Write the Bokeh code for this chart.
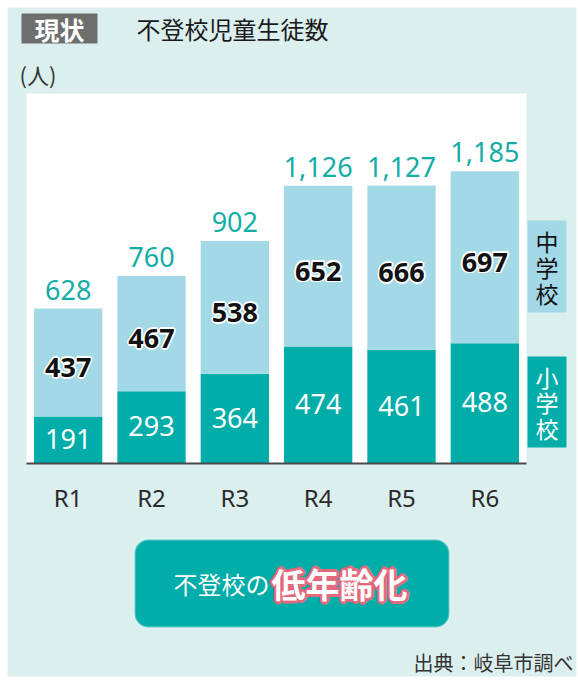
import math
from bokeh.plotting import figure
from bokeh.models import (ColumnDataSource, Range1d, Label, BoxAnnotation, FixedTicker,
                          LinearAxis)
from bokeh.core.properties import value
from bokeh.embed import file_html
from bokeh.resources import INLINE

# ---- data ----
years = ["R1", "R2", "R3", "R4", "R5", "R6"]
elementary = [191, 293, 364, 474, 461, 488]   # 小学校
junior = [437, 467, 538, 652, 666, 697]       # 中学校
totals = [628, 760, 902, 1126, 1127, 1185]

# ---- styles ----
TEAL = "#00ADA9"
TEAL_TXT = "#13ADA6"
LIGHT = "#A3D9E6"
PANEL = "#DCEFEF"
JP = "Noto Sans CJK JP"
NUM = "Noto Sans"

# ---- layout geometry (page pixels) ----
W, H = 578, 691
FL, FR, FT, FB = 26, 526, 93, 463   # white plot area
YMAX = 1500
n = len(years)
ux = (FR - FL) / n
uy = (FB - FT) / YMAX

xpos = [i + 0.5 for i in range(n)]

src = ColumnDataSource(dict(
    x=xpos,
    year=years,
    elem=elementary,
    jun=junior,
    total=totals,
    total_label=[f"{t:,}" for t in totals],
    elem_label=[str(v) for v in elementary],
    jun_label=[str(v) for v in junior],
    elem_mid=[e / 2 for e in elementary],
    jun_mid=[e + j / 2 for e, j in zip(elementary, junior)],
))

p = figure(width=W, height=H,
           x_range=Range1d(-FL / ux, (W - FL) / ux),
           y_range=Range1d(-(H - FB) / uy, FB / uy),
           output_backend="svg", toolbar_location=None, title=None,
           x_axis_location=None, y_axis_location=None, min_border=0,
           background_fill_color="white", border_fill_color="white", outline_line_color=None)
p.min_border_left = p.min_border_right = p.min_border_top = p.min_border_bottom = 0
p.extra_x_ranges = {"px": Range1d(0, W)}
p.extra_y_ranges = {"px": Range1d(H, 0)}
p.xgrid.visible = False
p.ygrid.visible = False

PX = dict(x_range_name="px", y_range_name="px")

# background panel and white plot area
p.quad(left=7, right=576, top=7, bottom=676, fill_color=PANEL, line_color=None, **PX)
p.quad(left=FL, right=FR, top=FT, bottom=FB, fill_color="white", line_color=None, **PX)

# stacked bars
p.vbar_stack(["elem", "jun"], x="x", width=0.82, fill_color=[TEAL, LIGHT],
             line_color=None, source=src)

# category axis along y = 0
ax = LinearAxis(fixed_location=0, bounds=(0, n), ticker=FixedTicker(ticks=xpos),
                major_label_overrides={xv: y for xv, y in zip(xpos, years)})
ax.axis_line_color = "#4a4a4a"
ax.axis_line_width = 2
ax.major_tick_line_color = None
ax.minor_tick_line_color = None
ax.major_tick_out = 0
ax.major_tick_in = 0
ax.major_label_standoff = 17
ax.major_label_text_font = NUM
ax.major_label_text_font_size = "24px"
ax.major_label_text_color = "#2a2a2a"
p.add_layout(ax, "below")

# totals
p.text(x="x", y="total", text="total_label", source=src, text_align="center",
       text_baseline="alphabetic", y_offset=-19, text_color=TEAL_TXT,
       text_font=value(NUM), text_font_size="27px")

# junior labels with white halo
JOFF = 5
for k in range(8):
    a = k * math.pi / 4
    p.text(x="x", y="jun_mid", text="jun_label", source=src, text_align="center",
           text_baseline="middle", x_offset=1.7 * math.cos(a), y_offset=JOFF + 1.7 * math.sin(a),
           text_color="white", text_font=value(NUM), text_font_size="27px",
           text_font_style="bold")
p.text(x="x", y="jun_mid", text="jun_label", source=src, text_align="center",
       text_baseline="middle", y_offset=JOFF, text_color="#111111",
       text_font=value(NUM), text_font_size="27px", text_font_style="bold")

# elementary labels
p.text(x="x", y="elem_mid", text="elem_label", source=src, text_align="center",
       text_baseline="middle", y_offset=-1, text_color="white",
       text_font=value(NUM), text_font_size="27px")


def box(l, r, t, b, color, **kw):
    p.add_layout(BoxAnnotation(left=l, right=r, top=t, bottom=b, fill_color=color,
                               fill_alpha=1, line_color=kw.pop("line_color", None),
                               **PX, **kw))


def lab(x, y, text, size, color, align="left", bold=False, font=JP, **kw):
    p.add_layout(Label(x=x, y=y, text=text, text_font_size=f"{size}px", text_color=color,
                       text_align=align, text_baseline="middle", text_font=font,
                       text_font_style="bold" if bold else "normal", **PX, **kw))


# header
box(21, 97, 13, 43, "#6E6E6E")
lab(59, 28, "現状", 25, "white", align="center", bold=True)
lab(136, 28, "不登校児童生徒数", 24, "#1a1a1a")
lab(19, 73, "(人)", 22, "#333333")

# legend boxes
box(527, 566, 220, 312, LIGHT)
for i, ch in enumerate("中学校"):
    lab(546.5, 240 + 26 * i, ch, 23, "#111111", align="center")
box(527, 566, 356, 447, TEAL)
for i, ch in enumerate("小学校"):
    lab(546.5, 376 + 25.5 * i, ch, 23, "white", align="center")

# callout
box(134, 449, 539, 627, TEAL, line_color="white", line_width=2.5, border_radius=14)
lab(173, 583, "不登校の", 24, "white")
for k in range(12):
    a = k * math.pi / 6
    lab(271, 583, "低年齢化", 34, "#E5697C", bold=True,
        x_offset=2.6 * math.cos(a), y_offset=2.6 * math.sin(a))
lab(271, 583, "低年齢化", 34, "white", bold=True)

# source
lab(573, 662, "出典：岐阜市調べ", 20, "#333333", align="right")

open("out.html", "w").write(file_html(p, INLINE))
